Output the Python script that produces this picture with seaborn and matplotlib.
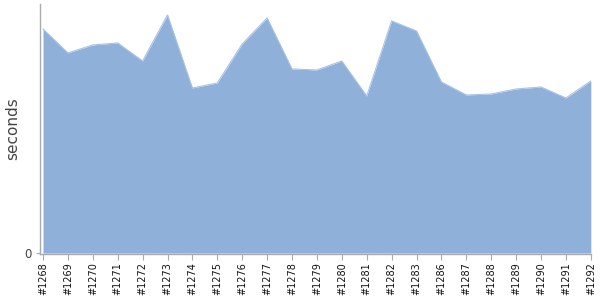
import matplotlib
matplotlib.use("Agg")
import matplotlib.pyplot as plt
import seaborn as sns
import pandas as pd
import numpy as np

builds = ["#1268", "#1269", "#1270", "#1271", "#1272", "#1273", "#1274", "#1275",
          "#1276", "#1277", "#1278", "#1279", "#1280", "#1281", "#1282", "#1283",
          "#1286", "#1287", "#1288", "#1289", "#1290", "#1291", "#1292"]
seconds = [224, 200, 208, 210, 192, 238, 165, 170, 209, 235, 184, 183, 192, 157,
           232, 222, 171, 158, 159, 164, 166, 155, 172]
y_ticks = [0]

sns.set_theme(style="white")
plt.rcParams['font.family'] = ['DejaVu Sans']

df = pd.DataFrame({"pos": np.arange(len(builds)), "build": builds, "seconds": seconds})

fig = plt.figure(figsize=(6, 3), dpi=100)
ax = fig.add_axes([0.0667, 0.153, 0.918, 0.834])

fill_color = "#8fb1d9"
sns.lineplot(data=df, x="pos", y="seconds", ax=ax, color="#a9c3e3", linewidth=0.8)
ax.fill_between(df["pos"], 0, df["seconds"], color=fill_color, linewidth=0)

ax.set_xlim(-0.12, len(builds) - 1)
ax.set_ylim(-1, 249)
ax.set_xticks(df["pos"])
ax.set_xticklabels(builds, rotation=90, fontsize=7, color="#111111")
ax.set_yticks(y_ticks)
ax.set_yticklabels([str(t) for t in y_ticks], fontsize=8.5, color="#444444")
ax.set_xlabel("")
ax.set_ylabel("seconds", fontsize=11, color="#444444")
ax.yaxis.set_label_coords(-0.036, 0.5)

for s in ["top", "right"]:
    ax.spines[s].set_visible(False)
for s in ["left", "bottom"]:
    ax.spines[s].set_color("#aaaaaa")
    ax.spines[s].set_linewidth(1)
ax.tick_params(axis="x", length=4, width=0.8, color="#aaaaaa", pad=2, bottom=True)
ax.tick_params(axis="y", length=3, width=0.8, color="#aaaaaa", pad=3, left=True)

fig.savefig("out.png", dpi=100)
